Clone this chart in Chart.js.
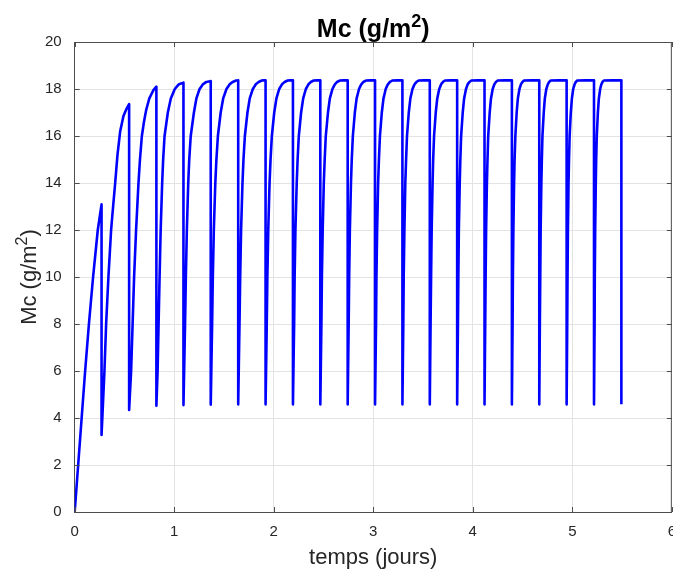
<!DOCTYPE html>
<html>
<head>
<meta charset="utf-8">
<script src="https://cdn.jsdelivr.net/npm/chart.js@4.4.0/dist/chart.umd.min.js"></script>
<style>
html,body{margin:0;padding:0;background:#ffffff;overflow:hidden;}
#wrap{width:687px;height:571px;position:relative;}
</style>
</head>
<body>
<div id="wrap"><canvas id="c"></canvas></div>
<script>
// temps (jours) — one line per cycle (trough -> rise -> peak)
const temps = [
  0, 0.035, 0.07, 0.105, 0.143, 0.185, 0.232, 0.270,
  0.270, 0.299, 0.316, 0.339, 0.366, 0.386, 0.407, 0.430, 0.457, 0.490, 0.520, 0.547,
  0.547, 0.567, 0.582, 0.597, 0.617, 0.641, 0.656, 0.675, 0.696, 0.718, 0.750, 0.791, 0.821,
  0.821, 0.833, 0.843, 0.853, 0.864, 0.879, 0.889, 0.903, 0.936, 0.966, 1.006, 1.046, 1.093,
  1.093, 1.109, 1.117, 1.127, 1.141, 1.151, 1.166, 1.198, 1.223, 1.255, 1.288, 1.323, 1.367,
  1.367, 1.381, 1.388, 1.398, 1.413, 1.424, 1.439, 1.467, 1.492, 1.525, 1.557, 1.587, 1.622, 1.643,
  1.643, 1.656, 1.663, 1.672, 1.686, 1.696, 1.710, 1.736, 1.759, 1.790, 1.820, 1.848, 1.880, 1.918,
  1.918, 1.930, 1.936, 1.945, 1.958, 1.968, 1.981, 2.005, 2.027, 2.055, 2.083, 2.109, 2.140, 2.193,
  2.193, 2.205, 2.210, 2.218, 2.231, 2.240, 2.252, 2.275, 2.296, 2.323, 2.349, 2.373, 2.402, 2.468,
  2.468, 2.479, 2.484, 2.492, 2.503, 2.512, 2.523, 2.545, 2.564, 2.590, 2.614, 2.637, 2.664, 2.743,
  2.743, 2.753, 2.758, 2.765, 2.776, 2.784, 2.795, 2.815, 2.833, 2.857, 2.880, 2.901, 2.927, 3.018,
  3.018, 3.028, 3.032, 3.039, 3.049, 3.057, 3.067, 3.086, 3.103, 3.125, 3.147, 3.168, 3.191, 3.293,
  3.293, 3.302, 3.306, 3.313, 3.322, 3.330, 3.339, 3.357, 3.373, 3.394, 3.415, 3.434, 3.456, 3.568,
  3.568, 3.576, 3.581, 3.587, 3.596, 3.602, 3.611, 3.628, 3.643, 3.663, 3.682, 3.700, 3.721, 3.843,
  3.843, 3.851, 3.855, 3.860, 3.869, 3.875, 3.883, 3.899, 3.913, 3.932, 3.949, 3.966, 3.986, 4.118,
  4.118, 4.125, 4.129, 4.134, 4.142, 4.148, 4.155, 4.170, 4.183, 4.200, 4.217, 4.232, 4.251, 4.393,
  4.393, 4.400, 4.403, 4.408, 4.415, 4.420, 4.428, 4.441, 4.453, 4.469, 4.484, 4.499, 4.515, 4.668,
  4.668, 4.674, 4.678, 4.682, 4.689, 4.694, 4.700, 4.713, 4.724, 4.739, 4.754, 4.767, 4.783, 4.943,
  4.943, 4.949, 4.952, 4.956, 4.962, 4.967, 4.973, 4.985, 4.996, 5.009, 5.023, 5.035, 5.050, 5.218,
  5.218, 5.224, 5.226, 5.230, 5.236, 5.240, 5.246, 5.257, 5.267, 5.280, 5.292, 5.304, 5.317, 5.493,
  5.493
];
// Mc (g/m2)
const mc = [
  0, 2, 4, 6, 8, 10, 12, 13.09,
  3.28, 6, 8, 10, 12, 13, 14, 15.2, 16.2, 16.85, 17.15, 17.36,
  4.34, 6, 8, 10, 12, 14, 15, 16, 16.6, 17.1, 17.6, 17.95, 18.10,
  4.52, 6, 8, 10, 12, 14, 15, 16, 17, 17.6, 18, 18.2, 18.27,
  4.55, 8, 10, 12, 14, 15, 16, 17, 17.6, 18, 18.2, 18.3, 18.34,
  4.57, 8, 10, 12, 14, 15, 16, 17, 17.6, 18, 18.2, 18.3, 18.36, 18.37,
  4.58, 8, 10, 12, 14, 15, 16, 17, 17.6, 18, 18.2, 18.3, 18.36, 18.37,
  4.58, 8, 10, 12, 14, 15, 16, 17, 17.6, 18, 18.2, 18.3, 18.36, 18.37,
  4.58, 8, 10, 12, 14, 15, 16, 17, 17.6, 18, 18.2, 18.3, 18.36, 18.37,
  4.58, 8, 10, 12, 14, 15, 16, 17, 17.6, 18, 18.2, 18.3, 18.36, 18.37,
  4.58, 8, 10, 12, 14, 15, 16, 17, 17.6, 18, 18.2, 18.3, 18.36, 18.37,
  4.58, 8, 10, 12, 14, 15, 16, 17, 17.6, 18, 18.2, 18.3, 18.36, 18.37,
  4.58, 8, 10, 12, 14, 15, 16, 17, 17.6, 18, 18.2, 18.3, 18.36, 18.37,
  4.58, 8, 10, 12, 14, 15, 16, 17, 17.6, 18, 18.2, 18.3, 18.36, 18.37,
  4.58, 8, 10, 12, 14, 15, 16, 17, 17.6, 18, 18.2, 18.3, 18.36, 18.37,
  4.58, 8, 10, 12, 14, 15, 16, 17, 17.6, 18, 18.2, 18.3, 18.36, 18.37,
  4.58, 8, 10, 12, 14, 15, 16, 17, 17.6, 18, 18.2, 18.3, 18.36, 18.37,
  4.58, 8, 10, 12, 14, 15, 16, 17, 17.6, 18, 18.2, 18.3, 18.36, 18.37,
  4.58, 8, 10, 12, 14, 15, 16, 17, 17.6, 18, 18.2, 18.3, 18.36, 18.37,
  4.58, 8, 10, 12, 14, 15, 16, 17, 17.6, 18, 18.2, 18.3, 18.36, 18.37,
  4.58
];
const xTickValues = [0, 1, 2, 3, 4, 5, 6];
const yTickValues = [0, 2, 4, 6, 8, 10, 12, 14, 16, 18, 20];
// texts: [base, superscript, tail]
const titleParts = ['Mc (g/m', '2', ')'];
const yLabelParts = ['Mc (g/m', '2', ')'];
const xLabel = 'temps (jours)';

const FONT = "'Liberation Sans', Arial, Helvetica, sans-serif";
const AXIS_COLOR = '#4d4d4d';
const TEXT_COLOR = '#262626';

const points = temps.map((t, i) => ({ x: t, y: mc[i] }));

function drawSupText(ctx, parts, size, bold, cx, baseline, color) {
  const w = bold ? 'bold ' : '';
  const supSize = Math.round(size * 0.72);
  const f1 = w + size + 'px ' + FONT;
  const f2 = w + supSize + 'px ' + FONT;
  ctx.font = f1; const w0 = ctx.measureText(parts[0]).width; const w2 = ctx.measureText(parts[2]).width;
  ctx.font = f2; const w1 = ctx.measureText(parts[1]).width;
  const total = w0 + w1 + w2;
  let x = cx - total / 2;
  ctx.fillStyle = color;
  ctx.textAlign = 'left';
  ctx.textBaseline = 'alphabetic';
  ctx.font = f1; ctx.fillText(parts[0], x, baseline); x += w0;
  ctx.font = f2; ctx.fillText(parts[1], x, baseline - size * 0.42); x += w1;
  ctx.font = f1; ctx.fillText(parts[2], x, baseline);
}

const frameAndText = {
  id: 'frameAndText',
  afterDatasetsDraw(chart) {
    const { ctx, chartArea: a, scales } = chart;
    ctx.save();
    ctx.strokeStyle = AXIS_COLOR;
    ctx.lineWidth = 1;
    ctx.beginPath();
    ctx.moveTo(a.left, a.top + 0.5); ctx.lineTo(a.right, a.top + 0.5);
    ctx.moveTo(a.right - 0.5, a.top); ctx.lineTo(a.right - 0.5, a.bottom);
    const L = 5;
    xTickValues.forEach(v => {
      const px = Math.round(scales.x.getPixelForValue(v)) + 0.5;
      ctx.moveTo(px, a.bottom); ctx.lineTo(px, a.bottom - L);
      ctx.moveTo(px, a.top); ctx.lineTo(px, a.top + L);
    });
    yTickValues.forEach(v => {
      const py = Math.round(scales.y.getPixelForValue(v)) + 0.5;
      ctx.moveTo(a.left, py); ctx.lineTo(a.left + L, py);
      ctx.moveTo(a.right, py); ctx.lineTo(a.right - L, py);
    });
    ctx.stroke();

    const cx = (a.left + a.right) / 2;
    const cy = (a.top + a.bottom) / 2;
    // title
    drawSupText(ctx, titleParts, 25, true, cx, 37, '#000000');
    // x label
    ctx.font = '22px ' + FONT;
    ctx.fillStyle = TEXT_COLOR;
    ctx.textAlign = 'center';
    ctx.textBaseline = 'alphabetic';
    ctx.fillText(xLabel, cx, 564);
    // y label (rotated)
    ctx.save();
    ctx.translate(36, cy);
    ctx.rotate(-Math.PI / 2);
    drawSupText(ctx, yLabelParts, 22, false, 0, 0, TEXT_COLOR);
    ctx.restore();
    ctx.restore();
  }
};

new Chart(document.getElementById('c'), {
  type: 'line',
  data: {
    datasets: [{
      data: points,
      borderColor: '#0000ff',
      borderWidth: 2.6,
      pointRadius: 0,
      tension: 0.0001,
      fill: false,
      borderJoinStyle: 'round',
      borderCapStyle: 'butt'
    }]
  },
  options: {
    responsive: true,
    maintainAspectRatio: false,
    animation: false,
    layout: { padding: { top: 42, left: 32, right: 0, bottom: 19 } },
    plugins: {
      legend: { display: false },
      tooltip: { enabled: false },
      title: { display: false }
    },
    scales: {
      x: {
        type: 'linear',
        min: 0, max: 6,
        afterBuildTicks: s => { s.ticks = xTickValues.map(v => ({ value: v })); },
        ticks: { color: TEXT_COLOR, font: { family: FONT, size: 15 }, padding: 11, maxRotation: 0 },
        grid: { color: '#e3e3e3', lineWidth: 1, drawTicks: false, tickLength: 0 },
        border: { display: true, color: AXIS_COLOR, width: 1 },
        title: { display: false }
      },
      y: {
        type: 'linear',
        min: 0, max: 20,
        afterBuildTicks: s => { s.ticks = yTickValues.map(v => ({ value: v })); },
        ticks: { color: TEXT_COLOR, font: { family: FONT, size: 15 }, padding: 13 },
        grid: { color: '#e3e3e3', lineWidth: 1, drawTicks: false, tickLength: 0 },
        border: { display: true, color: AXIS_COLOR, width: 1 },
        title: { display: false }
      }
    }
  },
  plugins: [frameAndText]
});
</script>
</body>
</html>
